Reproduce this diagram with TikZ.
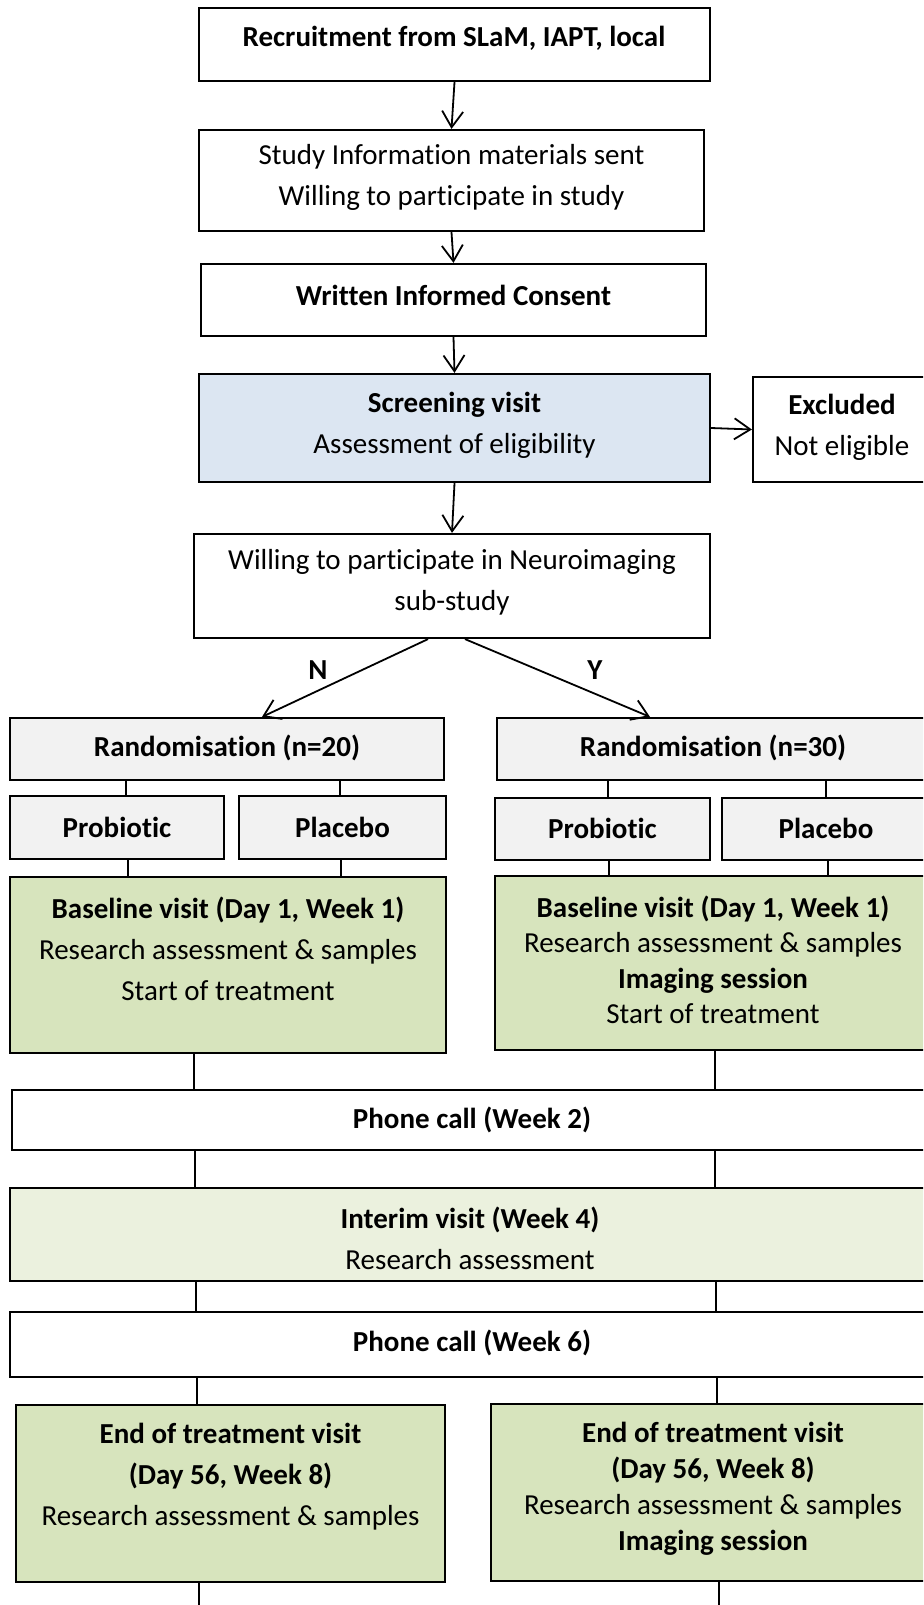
\documentclass[tikz,border=0pt]{standalone}
\usepackage{fontspec}
\setmainfont{Carlito}[Ligatures=CommonOff]
\usetikzlibrary{arrows.meta}
\definecolor{scrblue}{HTML}{DCE6F2}
\definecolor{lgrey}{HTML}{F2F2F2}
\definecolor{olivefill}{HTML}{D7E4BD}
\definecolor{paleolive}{HTML}{EBF1DE}
\tikzset{
  box/.style={draw=black, line width=2.2pt, inner sep=0pt},
  txt/.style={align=center, inner sep=0pt, font=\fontsize{29}{41}\selectfont},
  txtb/.style={align=center, inner sep=0pt, font=\fontsize{29}{35.5}\selectfont},
  arr/.style={line width=1.8pt, -{Straight Barb[length=16pt,width=21pt,line width=1.8pt]}},
  conn/.style={line width=1.2pt},
}
\begin{document}
\begin{tikzpicture}[x=1pt,y=-1pt]
\useasboundingbox (0,0) rectangle (923,1605);
\clip (0,0) rectangle (923,1605);
% boxes
\node[box, minimum width=511pt, minimum height=73pt] (b1) at (454.5,44.5) {};
\node[box, minimum width=505pt, minimum height=101pt] (b2) at (451.5,180.5) {};
\node[box, minimum width=505pt, minimum height=72pt] (b3) at (453.5,300) {};
\node[box, fill=scrblue, minimum width=511pt, minimum height=108pt] (scr) at (454.5,428) {};
\node[box, minimum width=178pt, minimum height=105pt] (exc) at (842,429.5) {};
\node[box, minimum width=516pt, minimum height=104pt] (b5) at (452,586) {};
\node[box, fill=lgrey, minimum width=434pt, minimum height=62pt] (r20) at (227,749) {};
\node[box, fill=lgrey, minimum width=432pt, minimum height=62pt] (r30) at (713,749) {};
\node[box, fill=lgrey, minimum width=214pt, minimum height=63pt] (pL1) at (117,827.5) {};
\node[box, fill=lgrey, minimum width=207pt, minimum height=63pt] (pL2) at (342.5,827.5) {};
\node[box, fill=lgrey, minimum width=215pt, minimum height=62pt] (pR1) at (602.5,829) {};
\node[box, fill=lgrey, minimum width=208pt, minimum height=62pt] (pR2) at (826,829) {};
\node[box, fill=olivefill, minimum width=436pt, minimum height=176pt] (baseL) at (228,965) {};
\node[box, fill=olivefill, minimum width=436pt, minimum height=174pt] (baseR) at (713,963) {};
\node[box, minimum width=920pt, minimum height=60pt] (ph2) at (472,1120) {};
\node[box, fill=paleolive, minimum width=920pt, minimum height=93pt] (int) at (470,1234.5) {};
\node[box, minimum width=924pt, minimum height=65pt] (ph6) at (472,1344.5) {};
\node[box, fill=olivefill, minimum width=429pt, minimum height=177pt] (eotL) at (230.5,1493.5) {};
\node[box, fill=olivefill, minimum width=444pt, minimum height=177pt] (eotR) at (713,1492.5) {};
% texts
\node[txt] (t1) at (454,38) {\textbf{Recruitment from SLaM, IAPT, local}};
\node[txt] (t2) at (451.5,177.5) {Study Information materials sent\\Willing to participate in study};
\node[txt] (t3) at (453.5,295) {\textbf{Written Informed Consent}};
\node[txt] (tscr) at (454.5,425.5) {\textbf{Screening visit}\\Assessment of eligibility};
\node[txt] (texc) at (842,427.5) {\textbf{Excluded}\\Not eligible};
\node[txt] (t5) at (452,582.5) {Willing to participate in Neuroimaging\\sub-study};
\node[txt] (tr20) at (227,748) {\textbf{Randomisation (n=20)}};
\node[txt] (tr30) at (713,748) {\textbf{Randomisation (n=30)}};
\node[txt] (tpL1) at (117,827) {\textbf{Probiotic}};
\node[txt] (tpL2) at (342.5,827) {\textbf{Placebo}};
\node[txt] (tpR1) at (602.5,828) {\textbf{Probiotic}};
\node[txt] (tpR2) at (826,828) {\textbf{Placebo}};
\node[txt] (tbaseL) at (228,949) {\textbf{Baseline visit (Day 1, Week 1)}\\Research assessment \& samples\\Start of treatment};
\node[txtb] (tbaseR) at (713,960) {\textbf{Baseline visit (Day 1, Week 1)}\\Research assessment \& samples\\\textbf{Imaging session}\\Start of treatment};
\node[txt] (tph2) at (472,1120) {\textbf{Phone call (Week 2)}};
\node[txt] (tint) at (470,1238) {\textbf{Interim visit (Week 4)}\\Research assessment};
\node[txt] (tph6) at (472,1343) {\textbf{Phone call (Week 6)}};
\node[txt] (teotL) at (230.5,1477) {\textbf{End of treatment visit}\\\textbf{(Day 56, Week 8)}\\Research assessment \& samples};
\node[txtb, font=\fontsize{29}{36}\selectfont] (teotR) at (713,1489) {\textbf{End of treatment visit}\\\textbf{(Day 56, Week 8)}\\Research assessment \& samples\\\textbf{Imaging session}};
\node[txt] (lN) at (318,670) {\textbf{N}};
\node[txt] (lY) at (595,670) {\textbf{Y}};
% arrows
\draw[arr] (b1.south) -- (b2.north);
\draw[arr] (b2.south) -- (b3.north);
\draw[arr] (b3.south) -- (scr.north);
\draw[arr] (scr.east) -- (exc.west);
\draw[arr] (scr.south) -- (b5.north);
\draw[arr] ([xshift=-24pt]b5.south) -- ([xshift=35pt]r20.north);
\draw[arr] ([xshift=13pt]b5.south) -- ([xshift=-63pt]r30.north);
% column coordinates
\coordinate (xa) at (126,0);
\coordinate (xb) at (340,0);
\coordinate (xc) at (608,0);
\coordinate (xd) at (826,0);
\coordinate (xe) at (128,0);
\coordinate (xf) at (341,0);
\coordinate (xg) at (609,0);
\coordinate (xh) at (828,0);
\coordinate (l1) at (194,0);
\coordinate (l2) at (195,0);
\coordinate (l3) at (196,0);
\coordinate (l4) at (197,0);
\coordinate (r1) at (715,0);
\coordinate (r2) at (716,0);
\coordinate (r3) at (717,0);
\coordinate (endL) at (199,1605);
\coordinate (endR) at (719,1605);
% connectors
\draw[conn] (r20.south -| xa) -- (pL1.north -| xa);
\draw[conn] (r20.south -| xb) -- (pL2.north -| xb);
\draw[conn] (r30.south -| xc) -- (pR1.north -| xc);
\draw[conn] (r30.south -| xd) -- (pR2.north -| xd);
\draw[conn] (pL1.south -| xe) -- (baseL.north -| xe);
\draw[conn] (pL2.south -| xf) -- (baseL.north -| xf);
\draw[conn] (pR1.south -| xg) -- (baseR.north -| xg);
\draw[conn] (pR2.south -| xh) -- (baseR.north -| xh);
\draw[conn] (baseL.south -| l1) -- (ph2.north -| l1);
\draw[conn] (baseR.south -| r1) -- (ph2.north -| r1);
\draw[conn] (ph2.south -| l2) -- (int.north -| l2);
\draw[conn] (ph2.south -| r1) -- (int.north -| r1);
\draw[conn] (int.south -| l3) -- (ph6.north -| l3);
\draw[conn] (int.south -| r2) -- (ph6.north -| r2);
\draw[conn] (ph6.south -| l4) -- (eotL.north -| l4);
\draw[conn] (ph6.south -| r3) -- (eotR.north -| r3);
\draw[conn] (eotL.south -| endL) -- (endL);
\draw[conn] (eotR.south -| endR) -- (endR);
\end{tikzpicture}
\end{document}
